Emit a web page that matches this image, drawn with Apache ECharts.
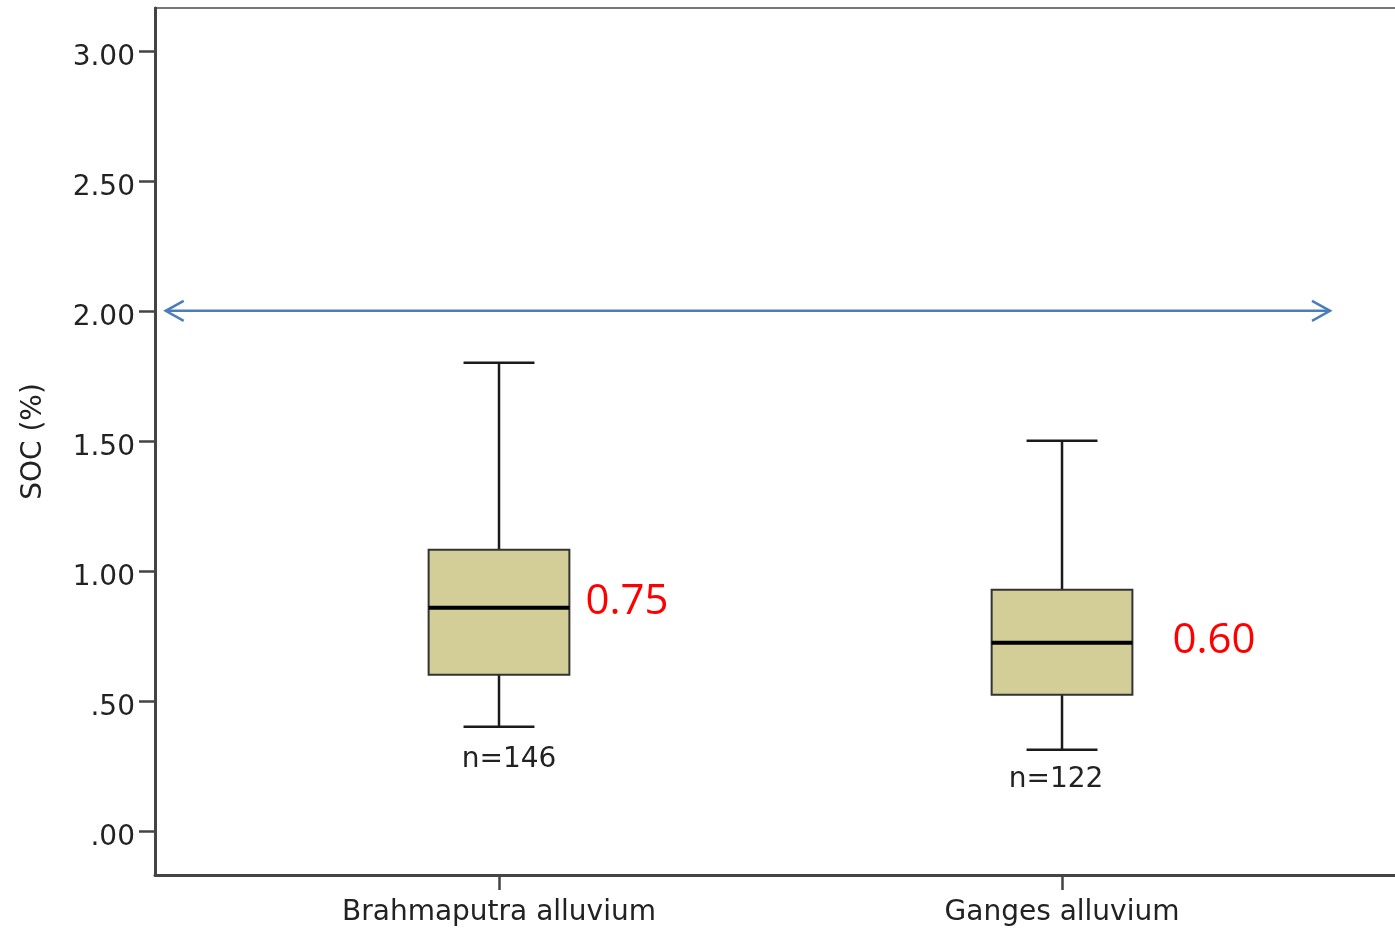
<!DOCTYPE html>
<html>
<head>
<meta charset="utf-8">
<script src="https://cdn.jsdelivr.net/npm/echarts@6/dist/echarts.min.js"></script>
<style>
html, body { margin: 0; padding: 0; background: #fff; }
#main { width: 1395px; height: 930px; }
</style>
</head>
<body>
<div id="main"></div>
<script>
// chart data
var categories = ['Brahmaputra alluvium', 'Ganges alluvium'];
// [min, Q1, median, Q3, max]
var boxValues = [
    [0.40, 0.60, 0.858, 1.081, 1.80],
    [0.312, 0.523, 0.723, 0.927, 1.50]
];
var sampleSizes = ['n=146', 'n=122'];
var meanLabels = ['0.75', '0.60'];
var yTicks = [0, 0.5, 1, 1.5, 2, 2.5, 3];
var yTickLabels = ['.00', '.50', '1.00', '1.50', '2.00', '2.50', '3.00'];
var refValue = 2.0;
var refSpan = [-0.592, 1.476];

var FONT = '"DejaVu Sans", sans-serif';
var boxWidth = 0.25;   // in category units
var capWidth = 0.126;
// label nudges in pixels
var meanLabelDx = [16, 40];
var meanLabelDy = [-6, -2];
var nLabelDx = [10, -6];
var nLabelDy = [33, 30];

var myChart = echarts.init(document.getElementById('main'));

function renderBox(params, api) {
    var i = params.dataIndex;
    var x = api.value(0);
    var pMin = api.coord([x, api.value(1)]);
    var pQ1 = api.coord([x, api.value(2)]);
    var pMed = api.coord([x, api.value(3)]);
    var pQ3 = api.coord([x, api.value(4)]);
    var pMax = api.coord([x, api.value(5)]);
    var half = api.size([boxWidth, 0])[0] / 2;
    var capHalf = api.size([capWidth, 0])[0] / 2;
    var cx = pMed[0];
    var whisker = { stroke: '#1a1a1a', lineWidth: 2.5 };
    return {
        type: 'group',
        children: [
            { type: 'line', shape: { x1: cx, y1: pMax[1], x2: cx, y2: pQ3[1] }, style: whisker },
            { type: 'line', shape: { x1: cx, y1: pQ1[1], x2: cx, y2: pMin[1] }, style: whisker },
            { type: 'line', shape: { x1: cx - capHalf, y1: pMax[1], x2: cx + capHalf, y2: pMax[1] }, style: whisker },
            { type: 'line', shape: { x1: cx - capHalf, y1: pMin[1], x2: cx + capHalf, y2: pMin[1] }, style: whisker },
            {
                type: 'rect',
                shape: { x: cx - half, y: pQ3[1], width: half * 2, height: pQ1[1] - pQ3[1] },
                style: { fill: '#d3ce98', stroke: '#333', lineWidth: 2 }
            },
            { type: 'line', shape: { x1: cx - half, y1: pMed[1], x2: cx + half, y2: pMed[1] }, style: { stroke: '#000', lineWidth: 4 } },
            {
                type: 'text',
                style: {
                    text: meanLabels[i], x: cx + half + meanLabelDx[i], y: pMed[1] + meanLabelDy[i],
                    fill: '#ff0000', fontFamily: '"Open Sans", sans-serif', fontSize: 42,
                    align: 'left', verticalAlign: 'middle'
                }
            },
            {
                type: 'text',
                style: {
                    text: sampleSizes[i], x: cx + nLabelDx[i], y: pMin[1] + nLabelDy[i],
                    fill: '#222', fontFamily: FONT, fontSize: 28,
                    align: 'center', verticalAlign: 'middle'
                }
            }
        ]
    };
}

function renderArrow(params, api) {
    var a = api.coord([refSpan[0], refValue]);
    var b = api.coord([refSpan[1], refValue]);
    var st = { stroke: '#4a7ebb', lineWidth: 2.5, fill: null };
    return {
        type: 'group',
        children: [
            { type: 'line', shape: { x1: a[0], y1: a[1], x2: b[0], y2: b[1] }, style: st },
            { type: 'polyline', shape: { points: [[a[0] + 18, a[1] - 10], [a[0], a[1]], [a[0] + 18, a[1] + 10]] }, style: st },
            { type: 'polyline', shape: { points: [[b[0] - 18, b[1] - 10], [b[0], b[1]], [b[0] - 18, b[1] + 10]] }, style: st }
        ]
    };
}

var option = {
    animation: false,
    grid: {
        left: 155, top: 8, right: -5, bottom: 55,
        outerBoundsMode: 'none',
        containLabel: false,
        show: true, borderColor: '#777', borderWidth: 2, backgroundColor: 'transparent'
    },
    xAxis: {
        type: 'value',
        min: -0.611,
        max: 1.6003,
        splitLine: { show: false },
        axisLine: { show: true, onZero: false, lineStyle: { color: '#444', width: 3 } },
        axisTick: { show: true, length: 15, customValues: [0, 1], lineStyle: { color: '#444', width: 2.5 } },
        axisLabel: {
            customValues: [0, 1],
            margin: 24,
            color: '#222',
            fontFamily: FONT,
            fontSize: 28,
            formatter: function (v) { return categories[Math.round(v)]; }
        }
    },
    yAxis: {
        type: 'value',
        min: -0.17,
        max: 3.165,
        name: 'SOC (%)',
        nameLocation: 'middle',
        nameRotate: 90,
        nameGap: 107,
        nameTextStyle: { color: '#222', fontFamily: FONT, fontSize: 28 },
        splitLine: { show: false },
        axisLine: { show: true, onZero: false, lineStyle: { color: '#444', width: 3 } },
        axisTick: { show: true, length: 16, customValues: yTicks, lineStyle: { color: '#444', width: 2.5 } },
        axisLabel: {
            customValues: yTicks,
            margin: 20,
            formatter: function (v) {
                var k = yTicks.indexOf(Math.round(v * 100) / 100);
                return k >= 0 ? '{t|' + yTickLabels[k] + '}' : '';
            },
            rich: {
                t: { color: '#222', fontFamily: FONT, fontSize: 28, padding: [14, 0, 0, 0] }
            }
        }
    },
    series: [
        {
            type: 'custom',
            renderItem: renderArrow,
            data: [[refSpan[0], refValue]],
            encode: { x: 0, y: 1 },
            silent: true
        },
        {
            type: 'custom',
            renderItem: renderBox,
            data: boxValues.map(function (v, i) { return [i].concat(v); }),
            encode: { x: 0, y: [1, 2, 3, 4, 5] }
        }
    ]
};

myChart.setOption(option);
</script>
</body>
</html>
